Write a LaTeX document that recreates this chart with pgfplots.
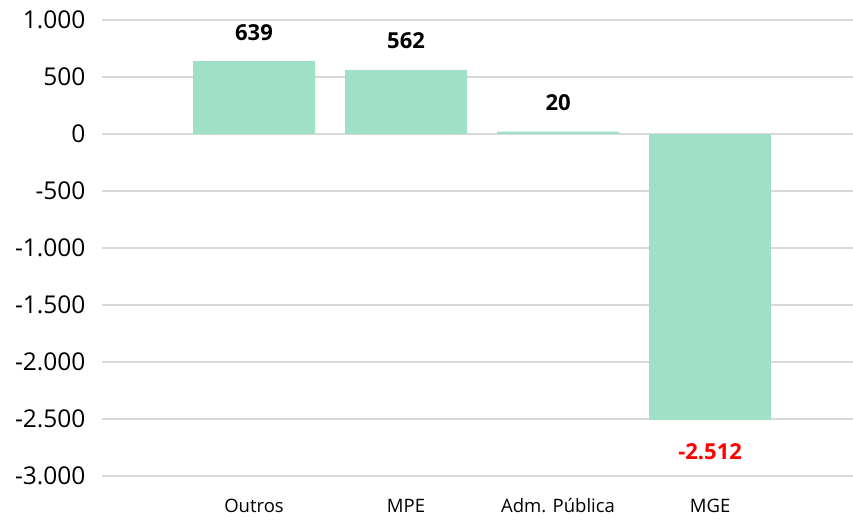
\documentclass[border=0pt]{standalone}
\usepackage{pgfplots}
\pgfplotsset{compat=1.18}
\usepackage{fontspec}
\setmainfont{Open Sans}
\definecolor{barg}{HTML}{A0E0C6}
\definecolor{gridg}{HTML}{D9D9D9}
\begin{document}
\begin{tikzpicture}
\begin{axis}[
  scale only axis,
  width=751pt, height=456pt,
  xmin=-1, xmax=3.94,
  ymin=-3000, ymax=1000,
  ytick={-3000,-2500,...,1000},
  xtick={0,1,2,3},
  xticklabels={Outros,MPE,Adm. Pública,MGE},
  axis line style={draw=none},
  major tick length=0pt,
  ymajorgrids,
  grid style={gridg, line width=1.6pt},
  /pgf/number format/.cd, 1000 sep={.}, assume math mode=true,
  /pgfplots/.cd,
  yticklabel style={font=\fontsize{24.5}{28}\selectfont, anchor=east, xshift=-13pt},
  xticklabel style={font=\fontsize{18.5}{21}\selectfont, anchor=center, yshift=-30pt},
  clip=false,
]
\addplot[ybar, bar width=122pt, bar shift=0pt, fill=barg, draw=none,
  point meta=explicit symbolic,
  nodes near coords,
  every node near coord/.append style={font=\fontsize{22}{25}\selectfont\bfseries, color=black, anchor=center, yshift=29pt}]
  coordinates {(0,639) [639] (1,562) [562] (2,20) [20]};
\addplot[ybar, bar width=122pt, bar shift=0pt, fill=barg, draw=none,
  point meta=explicit symbolic,
  nodes near coords,
  every node near coord/.append style={font=\fontsize{22}{25}\selectfont\bfseries, color=red, anchor=center, yshift=-31pt}]
  coordinates {(3,-2512) [-2.512]};
\end{axis}
\pgfresetboundingbox
\useasboundingbox ([xshift=-102pt,yshift=-44pt]current axis.south west) rectangle ([yshift=20pt]current axis.north east);
\end{tikzpicture}
\end{document}
